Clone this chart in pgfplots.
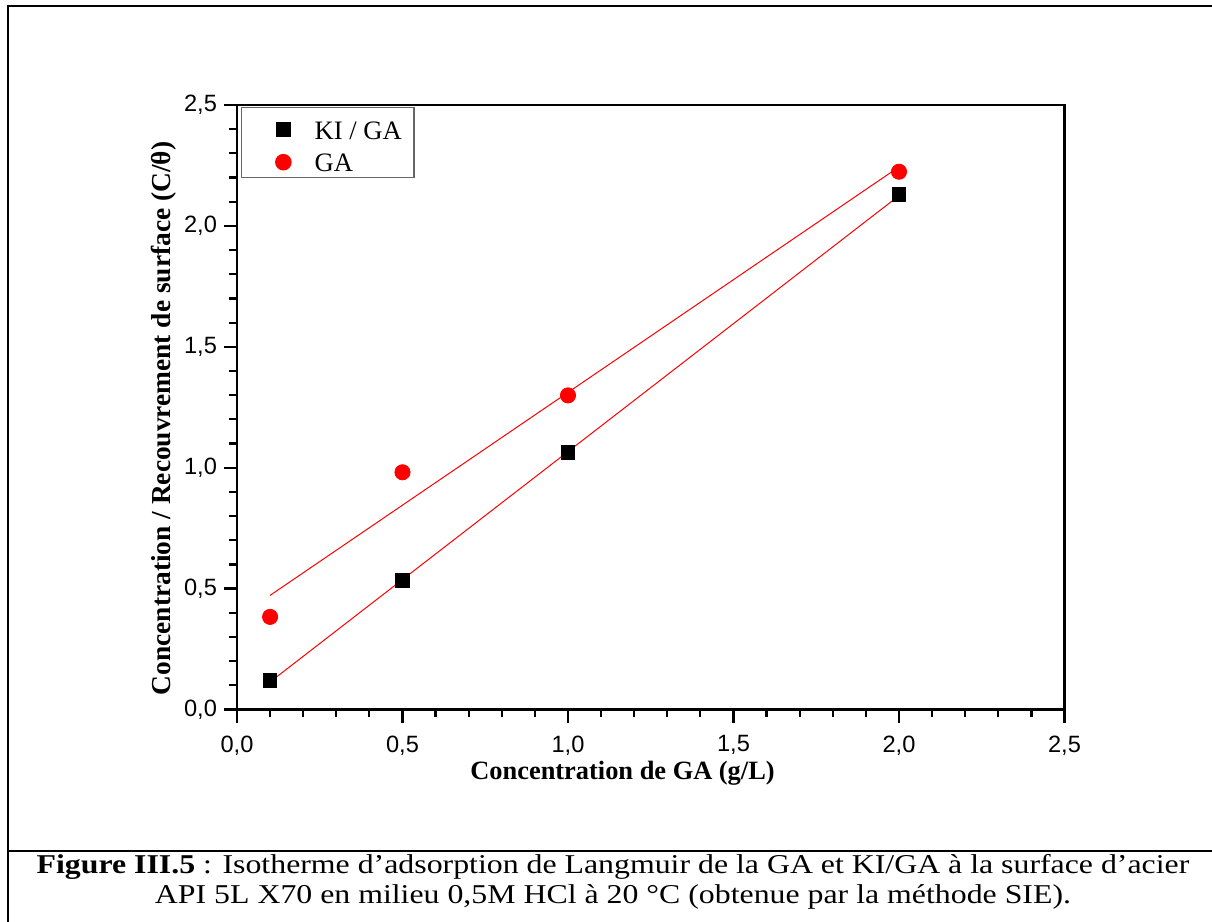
\documentclass[border=0pt]{standalone}
\usepackage{fontspec}
\setmainfont{Liberation Serif}
\setsansfont{Liberation Sans}
\usepackage{graphicx}
\usepackage{pgfplots}
\pgfplotsset{compat=1.18}
\begin{document}
\begin{tikzpicture}
\useasboundingbox (-118.5pt,-106.25pt) rectangle (487.5pt,354.75pt);
\begin{axis}[
  at={(0pt,0pt)}, anchor=south west,
  scale only axis, width=413.75pt, height=302.25pt,
  xmin=0, xmax=2.5, ymin=0, ymax=2.5,
  xtick={0,0.5,1,1.5,2,2.5}, ytick={0,0.5,1,1.5,2,2.5},
  minor tick num=4,
  xtick pos=bottom, ytick pos=left,
  tick align=outside,
  major tick length=6.5pt, minor tick length=3.8pt,
  every tick/.style={black, line width=1.1pt},
  axis line style={line width=1.3pt},
  /pgf/number format/assume math mode=true,
  /pgf/number format/.cd, use comma, fixed, fixed zerofill, precision=1,
  /pgfplots/.cd,
  ticklabel style={font=\fontsize{11.8}{14}\selectfont\sffamily},
  xticklabel style={yshift=-3pt},
  xlabel={\textbf{Concentration de GA (g/L)}},
  ylabel={\textbf{Concentration / Recouvrement de surface (C/θ)}},
  xlabel style={font=\fontsize{13.2}{15}\selectfont, at={(axis description cs:0.4659,-0.1166)}, anchor=base},
  ylabel style={font=\fontsize{13.7}{15}\selectfont, at={(axis description cs:-0.0798,0.4814)}, anchor=base, rotate=0},
  legend style={at={(axis description cs:0.0048,0.9967)}, anchor=north west,
    draw=gray!80!black, line width=0.7pt, inner xsep=6pt, inner ysep=2.9pt,
    row sep=3.55pt, column sep=8.8pt,
    nodes={inner sep=0pt, text height=12.8pt, text depth=0pt},
    font=\fontsize{13.3}{15}\selectfont},
  legend cell align=left,
  legend image code/.code={\path (0pt,0pt) (21pt,0pt); \draw[#1] plot coordinates {(14.5pt,-1.6pt)};},
]
\addplot[only marks, mark=square*, mark size=3.4pt, black] coordinates {(0.1,0.120) (0.5,0.533) (1.0,1.063) (2.0,2.131)};
\addlegendentry{KI / GA}
\addplot[only marks, mark=*, mark size=3.8pt, red, mark options={fill=red, draw=red}] coordinates {(0.1,0.383) (0.5,0.981) (1.0,1.299) (2.0,2.224)};
\addlegendentry{GA}
\addplot[red, line width=0.5pt, forget plot] coordinates {(0.1,0.114) (2.0,2.125)};
\addplot[red, line width=0.5pt, forget plot] coordinates {(0.1,0.472) (2.0,2.244)};
\end{axis}
\draw[line width=1pt] (-114.5pt,-106.25pt) -- (-114.5pt,351.75pt) -- (487.5pt,351.75pt);
\draw[line width=1pt] (-114.5pt,-70.75pt) -- (487.5pt,-70.75pt);
\node[anchor=base, font=\fontsize{13.6}{15}\selectfont, inner sep=0pt] at (188pt,-81.75pt) {\scalebox{1.17}[1]{\textbf{Figure III.5} : Isotherme d’adsorption de Langmuir de la GA et KI/GA à la surface d’acier}};
\node[anchor=base, font=\fontsize{13.6}{15}\selectfont, inner sep=0pt] at (188pt,-96.75pt) {\scalebox{1.17}[1]{API 5L X70 en milieu 0,5M HCl à 20 °C (obtenue par la méthode SIE).}};
\end{tikzpicture}
\end{document}
